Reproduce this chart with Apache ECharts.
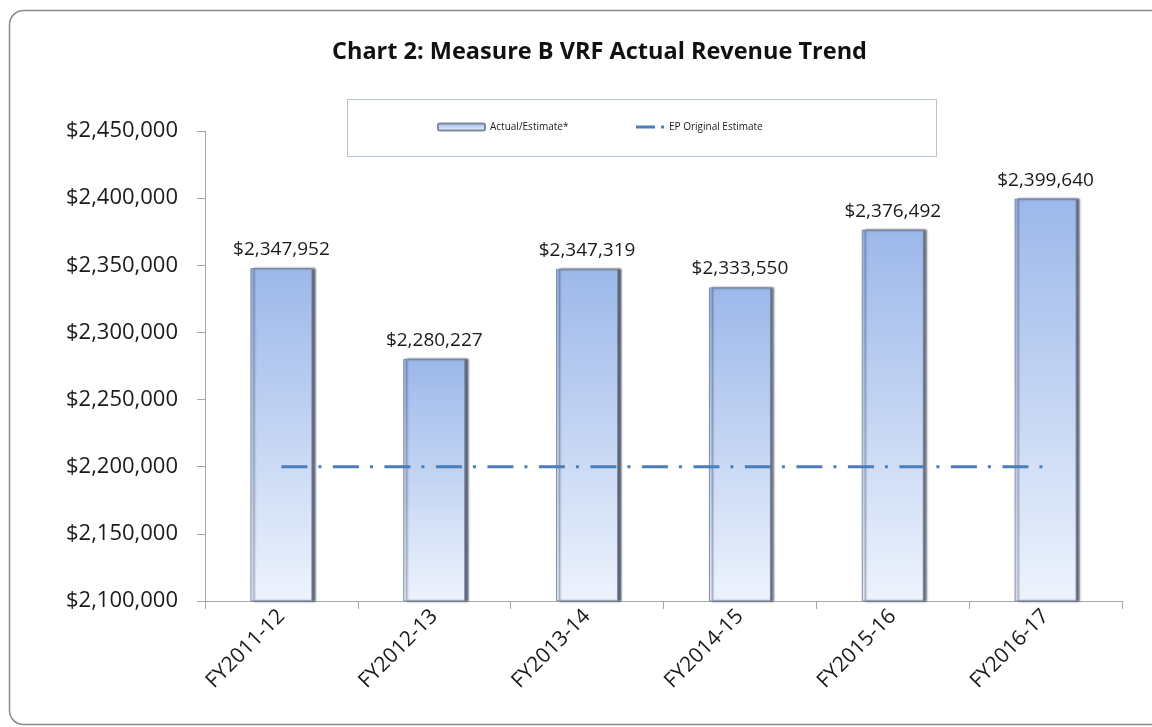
<!DOCTYPE html>
<html>
<head>
<meta charset="UTF-8">
<title>Chart 2</title>
<script src="https://cdn.jsdelivr.net/npm/echarts@6/dist/echarts.min.js"></script>
<style>
  html, body { margin: 0; padding: 0; background: #fff; }
  #main { width: 1152px; height: 727px; }
</style>
</head>
<body>
<div id="main"></div>
<script type="text/javascript">
var categories = ['FY2011-12', 'FY2012-13', 'FY2013-14', 'FY2014-15', 'FY2015-16', 'FY2016-17'];
var actualValues = [2347952, 2280227, 2347319, 2333550, 2376492, 2399640];
var originalEstimate = [2200000, 2200000, 2200000, 2200000, 2200000, 2200000];
var yTicks = [2100000, 2150000, 2200000, 2250000, 2300000, 2350000, 2400000, 2450000];

function money(v) {
  return '$' + String(v).replace(/\B(?=(\d{3})+(?!\d))/g, ',');
}

var font = '"Open Sans", Lato, sans-serif';
var myChart = echarts.init(document.getElementById('main'));
var option = {
  animation: false,
  backgroundColor: '#fff',
  title: {
    text: 'Chart 2: Measure B VRF Actual Revenue Trend',
    left: 327,
    top: 35,
    textStyle: { fontFamily: font, fontSize: 23.5, fontWeight: 'bold', color: '#111' }
  },
  graphic: [
    { // outer chart frame
      type: 'rect', left: 7, top: 8, z: -10,
      shape: { width: 1170, height: 714, r: 14 },
      style: { fill: 'none', stroke: '#8a8a8a', lineWidth: 1.5 }
    },
    { // legend box
      type: 'rect', left: 347, top: 99, z: -5,
      shape: { width: 589, height: 57 },
      style: { fill: '#fff', stroke: '#b7c4d8', lineWidth: 1 }
    }
  ],
  legend: [{
    data: ['Actual/Estimate*'],
    left: 437, top: 122, padding: 0,
    itemWidth: 47, itemHeight: 7, itemGap: 4,
    textStyle: { fontFamily: font, fontSize: 10, color: '#1a1a1a' }
  }, {
    data: [{
      name: 'EP Original Estimate',
      icon: 'path://M0,0H19V3H0Z M25,0H28V3H25Z'
    }],
    left: 636, top: 122, padding: 0,
    itemWidth: 28, itemHeight: 3, itemGap: 9,
    textStyle: { fontFamily: font, fontSize: 10, color: '#1a1a1a' }
  }],
  grid: { left: 205, right: 30, top: 131, bottom: 126 },
  xAxis: {
    type: 'category',
    data: categories,
    axisLine: { lineStyle: { color: '#a6a6a6', width: 1 } },
    axisTick: { show: true, length: 8, alignWithLabel: false, lineStyle: { color: '#a6a6a6' } },
    axisLabel: { rotate: 45, margin: 12, fontFamily: font, fontSize: 21, color: '#1a1a1a' }
  },
  yAxis: {
    type: 'value',
    min: yTicks[0],
    max: yTicks[yTicks.length - 1],
    interval: 50000,
    splitLine: { show: false },
    axisLine: { show: true, lineStyle: { color: '#a6a6a6', width: 1 } },
    axisTick: { show: true, length: 8, lineStyle: { color: '#a6a6a6' } },
    axisLabel: { margin: 27, fontFamily: font, fontSize: 22, color: '#1a1a1a', formatter: money }
  },
  series: [{
    name: 'Actual/Estimate*',
    type: 'bar',
    barWidth: 62,
    data: actualValues,
    itemStyle: {
      color: new echarts.graphic.LinearGradient(0, 0, 0, 1, [
        { offset: 0, color: '#9cb8ea' },
        { offset: 0.5, color: '#c4d5f3' },
        { offset: 1, color: '#eef3fd' }
      ]),
      borderColor: '#7d8aa0',
      borderWidth: 1,
      shadowColor: 'rgba(40,50,75,0.75)',
      shadowBlur: 2,
      shadowOffsetX: 3
    },
    label: {
      show: true,
      position: 'top',
      distance: 9,
      fontFamily: font,
      fontSize: 19,
      color: '#1a1a1a',
      formatter: function (p) { return money(p.value); }
    }
  }, {
    name: 'EP Original Estimate',
    type: 'line',
    data: originalEstimate,
    symbol: 'none',
    z: 5,
    lineStyle: { color: '#4a7ebb', width: 3, type: [26, 11, 3, 11.5] },
    itemStyle: { color: '#4a7ebb' }
  }]
};
myChart.setOption(option);
</script>
</body>
</html>
